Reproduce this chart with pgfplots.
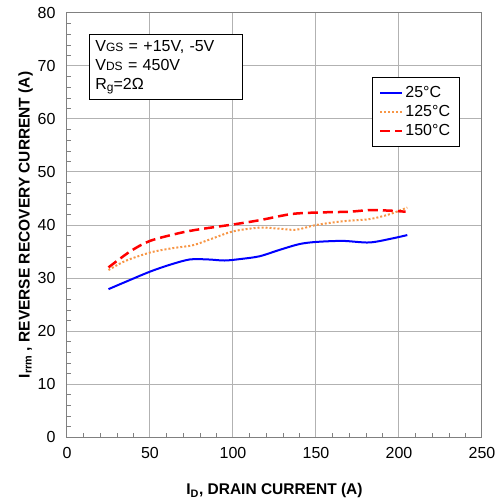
\documentclass[border=0pt]{standalone}
\usepackage{pgfplots}
\pgfplotsset{compat=1.18}
\usepackage{fontspec}
\setmainfont{Liberation Sans}
\definecolor{grd}{RGB}{178,178,178}
\definecolor{axc}{RGB}{128,128,128}
\definecolor{org}{RGB}{247,150,70}
\begin{document}
\begin{tikzpicture}
\path[use as bounding box] (-67pt,-67pt) rectangle (432pt,437pt);
\begin{axis}[
    scale only axis, width=415pt, height=424pt,
    xmin=0, xmax=250, ymin=0, ymax=80,
    xtick={0,50,...,250}, ytick={0,10,...,80},
    minor x tick num=4, minor y tick num=4,
    tick align=inside, tickpos=left,
    major tick length=0pt, minor tick length=4pt,
    grid=major, major grid style={grd, line width=1pt},
    axis line style={axc, line width=1pt},
    every tick/.style={axc},
    tick label style={font=\fontsize{16}{19}\selectfont},
    xticklabel style={yshift=-7pt},
    yticklabel style={xshift=-8pt},
    /pgf/number format/assume math mode=true,
    xlabel={\textbf{I\textsubscript{D}, DRAIN CURRENT (A)}},
    ylabel={\textbf{I\textsubscript{rrm} , REVERSE RECOVERY CURRENT (A)}},
    label style={font=\fontsize{15.5}{18}\selectfont},
    xlabel style={yshift=-18pt},
    ylabel style={yshift=-2pt},
    legend style={at={(0.735,0.849)}, anchor=north west, draw=black, line width=0.8pt,
        font=\fontsize{16}{19}\selectfont, inner xsep=7pt, inner ysep=7pt, row sep=2.5pt,
        legend cell align=left,
        /tikz/every even column/.append style={column sep=8pt}},
    legend image code/.code={\draw[#1, line width=2pt] (0pt,0pt) -- (22pt,0pt);},
]
\addplot[blue, line width=2pt, smooth] coordinates {
(25,27.9)(37,29.5)(50,31.2)(62,32.5)(74,33.5)(85,33.5)(95,33.3)(105,33.6)(116,34.1)(128,35.3)(140,36.4)(150,36.8)(166,37.0)(182,36.7)(195,37.4)(205,38.1)
};
\addlegendentry{25°C}
\addplot[org, line width=2pt, dotted, smooth] coordinates {
(25,31.5)(35,33.2)(50,34.8)(63,35.6)(76,36.2)(88,37.5)(100,38.8)(116,39.5)(128,39.3)(138,39.1)(150,40)(166,40.7)(182,41.1)(194,42)(205,43.3)
};
\addlegendentry{125°C}
\addplot[red, line width=2.5pt, dash pattern=on 10pt off 5pt, smooth] coordinates {
(25,32)(38,35)(50,37)(68,38.5)(80,39.2)(100,40.1)(116,40.9)(136,42.1)(156,42.4)(170,42.5)(182,42.8)(195,42.7)(204,42.5)
};
\addlegendentry{150°C}
\node[draw=black, line width=0.8pt, fill=white, anchor=north west, align=left,
      inner xsep=6pt, inner ysep=4pt, text width=141pt, minimum height=65pt,
      font=\fontsize{16}{19}\selectfont]
  at (rel axis cs:0.053,0.950)
  {V{\fontsize{12}{12}\selectfont GS} = +15V, -5V\\
   V{\fontsize{12}{12}\selectfont DS} = 450V\\
   R\raisebox{-2pt}{\fontsize{12}{12}\selectfont g}=2Ω};
\end{axis}
\end{tikzpicture}
\end{document}
